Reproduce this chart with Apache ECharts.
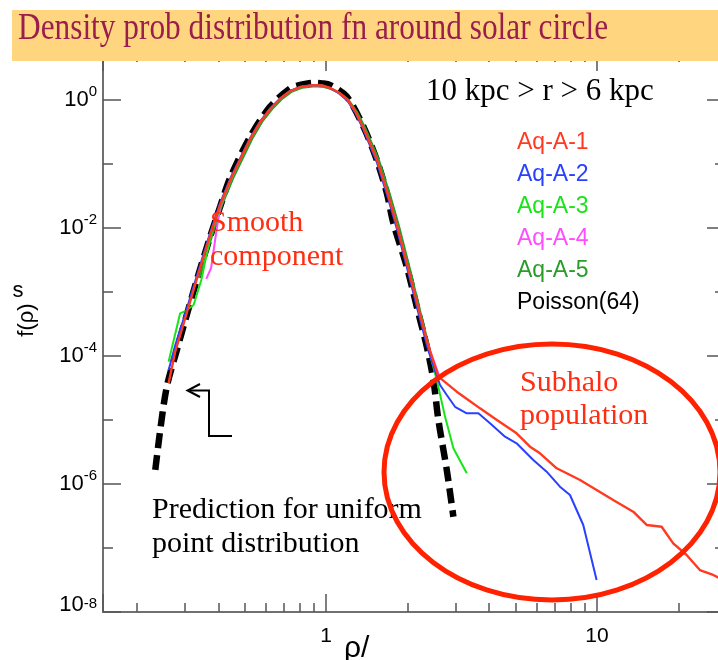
<!DOCTYPE html>
<html><head><meta charset="utf-8">
<script src="https://cdn.jsdelivr.net/npm/echarts@6/dist/echarts.min.js"></script>
<style>html,body{margin:0;padding:0;background:#fff}#c{width:718px;height:660px}</style>
</head><body><div id="c"></div>
<script>
// ---- data (x = rho, y = f(rho)) ----
const xRange = [0.15, 29.7];
const yRange = [1e-8, 5.424];
const yLogRange = [-8, 0.734375];
const xTickValues = [1, 10];
const xTickLabels = ['1', '10'];
const yTickExponents = [0, -2, -4, -6, -8];

const seriesNames = ['Aq-A-1', 'Aq-A-2', 'Aq-A-3', 'Aq-A-4', 'Aq-A-5', 'Poisson(64)'];

const poisson64 = [
  [0.234, 1.66e-6], [0.244, 6.98e-6], [0.258, 3.31e-5], [0.281, 1.24e-4], [0.302, 3.65e-4],
  [0.333, 1.54e-3], [0.373, 7.31e-3], [0.406, 0.0215], [0.442, 0.0604], [0.524, 0.267],
  [0.621, 0.786], [0.737, 1.52], [0.802, 1.72], [0.898, 1.86], [0.967, 1.82], [1.035, 1.71],
  [1.192, 1.13], [1.373, 0.383], [1.538, 0.1155], [1.675, 0.0352], [1.772, 0.01183],
  [1.985, 2.49e-3], [2.161, 5.89e-4], [2.353, 1.40e-4], [2.489, 4.22e-5], [2.597, 1.0e-5],
  [2.789, 1.66e-6], [2.950, 3.08e-7]
];

const aqA1 = [
  [0.262, 3.74e-5], [0.277, 1.155e-4], [0.302, 3.92e-4], [0.334, 1.66e-3], [0.373, 7.78e-3],
  [0.406, 0.0229], [0.446, 0.0604], [0.524, 0.246], [0.571, 0.453], [0.621, 0.723],
  [0.677, 1.055], [0.737, 1.38], [0.802, 1.596], [0.895, 1.71], [0.967, 1.685], [1.035, 1.54],
  [1.107, 1.334], [1.195, 1.036], [1.279, 0.673], [1.369, 0.379], [1.542, 0.1155],
  [1.694, 0.0328], [1.828, 0.01075], [2.007, 2.37e-3], [2.185, 5.83e-4], [2.379, 1.49e-4],
  [2.597, 4.75e-5], [3.035, 2.77e-5], [3.35, 2.05e-5], [3.70, 1.52e-5], [4.27, 1.0e-5],
  [5.05, 6.2e-6], [5.66, 3.83e-6], [6.16, 3.02e-6], [7.10, 1.76e-6], [7.73, 1.47e-6],
  [8.66, 1.155e-6], [9.97, 8.06e-7], [11.48, 5.62e-7], [13.61, 3.69e-7], [15.26, 2.29e-7],
  [17.33, 2.15e-7], [19.12, 1.18e-7], [21.43, 7.78e-8], [23.99, 4.53e-8], [26.86, 3.79e-8],
  [29.67, 3.05e-8]
];

const aqA2 = [
  [0.262, 6.0e-5], [0.277, 1.45e-4], [0.302, 4.6e-4], [0.334, 1.85e-3], [0.373, 8.4e-3],
  [0.406, 0.0245], [0.446, 0.064], [0.524, 0.255], [0.571, 0.465], [0.621, 0.735],
  [0.677, 1.06], [0.737, 1.39], [0.802, 1.60], [0.895, 1.71], [0.967, 1.68], [1.035, 1.52],
  [1.107, 1.30], [1.195, 0.99], [1.279, 0.64], [1.369, 0.355], [1.542, 0.104],
  [1.694, 0.029], [1.828, 9.4e-3], [2.007, 2.05e-3], [2.185, 4.9e-4], [2.379, 1.25e-4],
  [2.55, 5.2e-5], [2.634, 3.52e-5], [2.789, 2.46e-5], [2.992, 1.61e-5], [3.306, 1.27e-5],
  [3.648, 1.27e-5], [4.029, 8.88e-6], [4.576, 5.48e-6], [5.05, 4.32e-6], [5.82, 2.37e-6],
  [6.52, 1.56e-6], [7.30, 9.08e-7], [7.95, 6.73e-7], [8.90, 2.29e-7], [9.97, 3.16e-8]
];

const aqA3 = [
  [0.262, 8.15e-5], [0.289, 4.64e-4], [0.303, 5.05e-4], [0.324, 6.26e-4], [0.346, 1.54e-3],
  [0.373, 7.0e-3], [0.406, 0.0215], [0.446, 0.058], [0.524, 0.245], [0.571, 0.45],
  [0.621, 0.72], [0.677, 1.04], [0.737, 1.37], [0.802, 1.58], [0.895, 1.70], [0.967, 1.67],
  [1.035, 1.53], [1.107, 1.32], [1.195, 1.02], [1.279, 0.66], [1.369, 0.37], [1.542, 0.112],
  [1.694, 0.032], [1.828, 0.0105], [2.007, 2.3e-3], [2.185, 5.6e-4], [2.379, 1.40e-4],
  [2.562, 4.22e-5], [2.748, 1.13e-5], [2.950, 3.61e-6], [3.306, 1.47e-6]
];

const aqA4 = [
  [0.361, 1.60e-3], [0.376, 2.37e-3], [0.393, 8.66e-3], [0.406, 0.0207], [0.446, 0.059],
  [0.524, 0.248], [0.571, 0.455], [0.621, 0.725], [0.677, 1.05], [0.737, 1.38], [0.802, 1.59],
  [0.895, 1.70], [0.967, 1.68], [1.035, 1.53], [1.107, 1.32], [1.195, 1.02], [1.279, 0.66],
  [1.369, 0.372], [1.542, 0.113], [1.694, 0.0325], [1.828, 0.0107], [2.007, 2.35e-3],
  [2.185, 5.8e-4], [2.379, 1.47e-4], [2.634, 4.53e-5]
];

const aqA5 = [
  [0.340, 1.66e-3], [0.380, 7.78e-3], [0.413, 0.0229], [0.454, 0.0604], [0.533, 0.246],
  [0.580, 0.453], [0.632, 0.723], [0.688, 1.04], [0.749, 1.36], [0.815, 1.55], [0.910, 1.64],
  [0.982, 1.60], [1.051, 1.47], [1.125, 1.27], [1.213, 0.99], [1.298, 0.66], [1.392, 0.372],
  [1.568, 0.1145], [1.723, 0.0328], [1.858, 0.01075], [2.035, 2.37e-3], [2.205, 5.9e-4],
  [2.390, 1.49e-4], [2.483, 7.24e-5]
];

const colors = {
  'Aq-A-1': '#FF3A22', 'Aq-A-2': '#2A40FF', 'Aq-A-3': '#18E418',
  'Aq-A-4': '#FF4CFF', 'Aq-A-5': '#2A9C2A', 'Poisson(64)': '#000000'
};

// ---- chart ----
const chart = echarts.init(document.getElementById('c'), null, {renderer: 'canvas'});

const tickStyle = {color: '#555', width: 1.5};
const lineAxisStyle = {color: '#707070', width: 2};
const sans = 'Liberation Sans';
const serif = 'Liberation Serif';

function xAxisDef(pos, labels) {
  return {
    type: 'log', logBase: 10, min: xRange[0], max: xRange[1], position: pos, gridIndex: 0,
    axisLine: {show: true, onZero: false, lineStyle: lineAxisStyle},
    axisTick: {show: true, inside: true, length: 18, lineStyle: tickStyle},
    minorTick: {show: true, splitNumber: 9, length: 9, lineStyle: tickStyle},
    splitLine: {show: false}, minorSplitLine: {show: false},
    axisLabel: {
      show: labels, margin: 14, fontSize: 21, fontFamily: sans, color: '#000',
      formatter: function (v) {
        for (let i = 0; i < xTickValues.length; i++) {
          if (Math.abs(v - xTickValues[i]) < 1e-9) return xTickLabels[i];
        }
        return '';
      }
    }
  };
}

function yLogAxisDef(pos, labels) {
  return {
    type: 'log', logBase: 10, min: yRange[0], max: yRange[1], position: pos, gridIndex: 0,
    axisLine: {show: true, onZero: false, lineStyle: lineAxisStyle},
    axisTick: {show: true, inside: true, length: 10, lineStyle: tickStyle},
    splitLine: {show: false},
    axisLabel: {
      show: labels, margin: 6, color: '#000',
      formatter: function (v) {
        const e = Math.log10(v);
        const r = Math.round(e);
        if (Math.abs(e - r) > 1e-6 || yTickExponents.indexOf(r) < 0) return '';
        return r === -8 ? '{bb|10}{ss|' + r + '}' : '{b|10}{s|' + r + '}';
      },
      rich: {
        b: {fontSize: 22, fontFamily: sans, color: '#000', lineHeight: 32},
        s: {fontSize: 15, fontFamily: sans, color: '#000', lineHeight: 19, verticalAlign: 'top'},
        bb: {fontSize: 22, fontFamily: sans, color: '#000', lineHeight: 32, padding: [0, 0, 14, 0]},
        ss: {fontSize: 15, fontFamily: sans, color: '#000', lineHeight: 19, verticalAlign: 'top'}
      }
    }
  };
}

function yMajorAxisDef(pos) {
  // same decades in log10 space, used only to draw the long ticks every 2 decades
  return {
    type: 'value', min: yLogRange[0], max: yLogRange[1], interval: 2, position: pos, gridIndex: 0,
    axisLine: {show: false, onZero: false},
    axisTick: {show: true, inside: true, length: 18, lineStyle: tickStyle},
    axisLabel: {show: false}, splitLine: {show: false}
  };
}

function lineSeries(name, data, width, extra) {
  return Object.assign({
    type: 'line', name: name, data: data, xAxisIndex: 0, yAxisIndex: 0,
    symbol: 'none', showSymbol: false, clip: true, silent: true, animation: false,
    lineStyle: {color: colors[name], width: width},
    itemStyle: {color: colors[name]},
    emphasis: {disabled: true}
  }, extra || {});
}

const option = {
  animation: false,
  backgroundColor: '#ffffff',
  grid: {left: 103, top: 53, width: 622, height: 559, containLabel: false, outerBoundsMode: 'none'},
  xAxis: [xAxisDef('bottom', true), xAxisDef('top', false)],
  yAxis: [yLogAxisDef('left', true), yMajorAxisDef('left'), yLogAxisDef('right', false), yMajorAxisDef('right')],
  legend: {
    orient: 'vertical', left: 507, top: 126, itemGap: 9, itemWidth: 0, itemHeight: 0,
    icon: 'none', selectedMode: false,
    textStyle: {fontSize: 23, fontFamily: sans},
    data: seriesNames.map(function (n) { return {name: n, textStyle: {color: colors[n]}}; })
  },
  series: [
    lineSeries('Poisson(64)', poisson64, 6, {smooth: 0.3, lineStyle: {color: '#000', width: 6.5, type: [15, 7], cap: 'butt'}}),
    lineSeries('Aq-A-5', aqA5, 2),
    lineSeries('Aq-A-4', aqA4, 2),
    lineSeries('Aq-A-3', aqA3, 2),
    lineSeries('Aq-A-2', aqA2, 2),
    lineSeries('Aq-A-1', aqA1, 2.4)
  ],
  graphic: [
    {type: 'rect', shape: {x: 12, y: 10, width: 720, height: 51}, style: {fill: '#FFD580'}, z: 100},
    {type: 'text', x: 18, y: 29, scaleX: 0.847, z: 101,
     style: {text: 'Density prob distribution fn around solar circle', fontSize: 37, fontFamily: serif, fill: '#9A1E4C', verticalAlign: 'middle'}},
    {type: 'text', x: 426, y: 92, z: 20,
     style: {text: '10 kpc > r > 6 kpc', fontSize: 31, fontFamily: serif, fill: '#000', verticalAlign: 'middle'}},
    {type: 'text', x: 210, y: 223, z: 20,
     style: {text: 'Smooth', fontSize: 30, fontFamily: serif, fill: '#FF2D12', verticalAlign: 'middle'}},
    {type: 'text', x: 210, y: 257, z: 20,
     style: {text: 'component', fontSize: 30, fontFamily: serif, fill: '#FF2D12', verticalAlign: 'middle'}},
    {type: 'text', x: 520, y: 383, z: 20,
     style: {text: 'Subhalo', fontSize: 30, fontFamily: serif, fill: '#FF2D12', verticalAlign: 'middle'}},
    {type: 'text', x: 520, y: 416, z: 20,
     style: {text: 'population', fontSize: 30, fontFamily: serif, fill: '#FF2D12', verticalAlign: 'middle'}},
    {type: 'text', x: 152, y: 510, z: 20,
     style: {text: 'Prediction for uniform', fontSize: 30, fontFamily: serif, fill: '#000', verticalAlign: 'middle'}},
    {type: 'text', x: 152, y: 544, z: 20,
     style: {text: 'point distribution', fontSize: 30, fontFamily: serif, fill: '#000', verticalAlign: 'middle'}},
    {type: 'ellipse', shape: {cx: 552, cy: 472, rx: 168, ry: 128}, z: 30,
     style: {stroke: '#FF2200', lineWidth: 5, fill: null}},
    {type: 'polyline', shape: {points: [[200, 384], [187.5, 390.5], [200, 397]]}, z: 20,
     style: {stroke: '#000', lineWidth: 2, fill: null}},
    {type: 'polyline', shape: {points: [[190, 390.5], [209, 390.5], [209, 436], [232, 436]]}, z: 20,
     style: {stroke: '#000', lineWidth: 2, fill: null}},
    {type: 'text', x: 27, y: 320, rotation: Math.PI / 2, z: 20,
     style: {text: 'f(ρ)', fontSize: 22, fontFamily: sans, fill: '#000', align: 'center', verticalAlign: 'middle'}},
    {type: 'text', x: 18, y: 291, z: 20,
     style: {text: 's', fontSize: 22, fontFamily: sans, fill: '#000', align: 'center', verticalAlign: 'middle'}},
    {type: 'text', x: 344, y: 649, z: 20,
     style: {text: 'ρ/', fontSize: 30, fontFamily: sans, fill: '#000', verticalAlign: 'middle'}}
  ]
};
chart.setOption(option);
</script>
</body></html>
